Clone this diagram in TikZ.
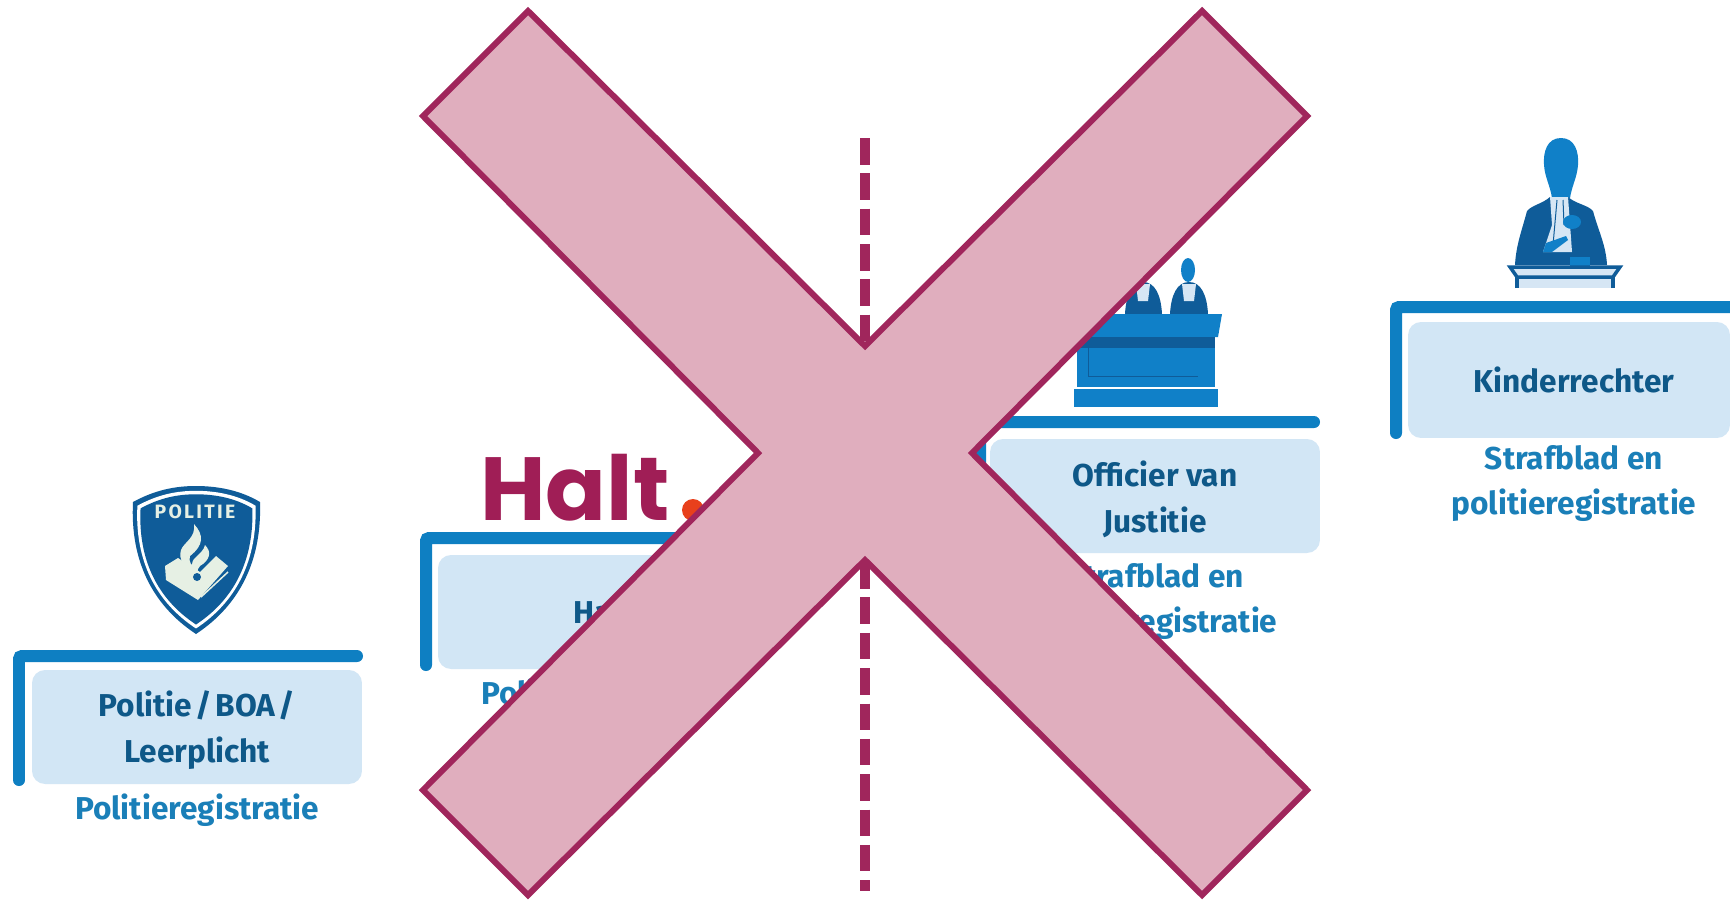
\documentclass[tikz,border=0pt]{standalone}
\usepackage{fontspec}
\setmainfont{Fira Sans}
\newfontfamily\logofont{Poppins}
\usetikzlibrary{positioning}
\definecolor{barblue}{RGB}{14,127,194}
\definecolor{boxblue}{RGB}{210,230,245}
\definecolor{titleblue}{RGB}{14,88,136}
\definecolor{subblue}{RGB}{26,127,184}
\definecolor{iconblue}{RGB}{16,128,200}
\definecolor{navyblue}{RGB}{15,92,153}
\definecolor{cream}{RGB}{230,240,228}
\definecolor{paleblue}{RGB}{214,230,244}
\definecolor{crossfill}{RGB}{224,174,190}
\definecolor{crossline}{RGB}{160,38,92}
\definecolor{haltred}{RGB}{160,30,86}
\definecolor{haltdot}{RGB}{232,64,28}
\newcommand{\shieldpath}{(-63,-53) .. controls (-41,-65) and (-21,-69) .. (0,-69) .. controls (21,-69) and (44,-65) .. (64,-53) .. controls (66,5) and (44,50) .. (0,79) .. controls (-44,50) and (-66,5) .. (-63,-53) -- cycle}
\newcommand{\topstrut}{\rule{0pt}{18.5pt}}
\tikzset{
  bracket/.style={draw=barblue,line width=0.24cm,rounded corners=0.06cm,line cap=round},
  panelbox/.style={fill=boxblue,rounded corners=0.26cm,minimum width=6.6cm,minimum height=2.28cm,inner sep=0pt,align=center,text=titleblue,font=\fontsize{18}{26}\selectfont\bfseries},
  sublabel/.style={align=center,text=subblue,inner sep=0pt,font=\fontsize{18}{26}\selectfont\bfseries},
  crossmark/.style={draw=crossline,fill=crossfill,line width=0.12cm,miter limit=4},
  divider/.style={draw=crossline,line width=0.19cm,dash pattern=on 0.53cm off 0.177cm}
}
\begin{document}
\begin{tikzpicture}[x=0.02cm,y=-0.02cm]
  \useasboundingbox (0,0) rectangle (1730,900);
  \fill[white] (0,0) rectangle (1730,900);
  % panels
  \draw[bracket] (19,780) |- (357,656);
  \node[panelbox] (politiebox) at (197,727) {\topstrut\spaceskip=2pt Politie / BOA /\\Leerplicht};
  \node[sublabel,below=0.19cm of politiebox] (politiesub) {Politieregistratie};
  \draw[bracket] (426,665) |- (762,538);
  \node[panelbox] (haltbox) at (603,612) {Halt};
  \node[sublabel,below=0.19cm of haltbox] (haltsub) {Politieregistratie};
  \draw[bracket] (980,547) |- (1314,422);
  \node[panelbox] (officierbox) at (1155,496) {\topstrut Officier van\\Justitie};
  \node[sublabel,below=0.19cm of officierbox] (officiersub) {Strafblad en\\politieregistratie};
  \draw[bracket] (1396,433) |- (1735,307);
  \node[panelbox,minimum width=6.44cm,minimum height=2.32cm] (rechterbox) at (1569,380) {\hspace*{0.2cm}Kinderrechter};
  \node[sublabel,below=0.13cm of rechterbox,xshift=0.1cm] (rechtersub) {Strafblad en\\politieregistratie};
  % shield
  \begin{scope}[shift={(196,555)}]
    \fill[navyblue] \shieldpath;
    \fill[white,scale=0.93] \shieldpath;
    \fill[navyblue,scale=0.88] \shieldpath;
  \end{scope}
  \node[inner sep=0pt,text=cream,font=\fontsize{11}{12}\selectfont\bfseries\addfontfeatures{LetterSpace=12}] (politieword) at (195,512) {POLITIE};
  \fill[cream] (165,566) -- (178,558) -- (200,572) -- (216,556) -- (228,566) -- (198,600) -- (166,580) -- cycle;
  \draw[cream,line width=0.03cm] (201,597) -- (228,572);
  \fill[cream] (194,524) .. controls (204,535) and (204,545) .. (190,556) .. controls (188,562) and (192,566) .. (196,568) .. controls (184,566) and (178,560) .. (181,550) .. controls (184,542) and (196,538) .. (194,524) -- cycle;
  \fill[cream] (205,545) .. controls (212,552) and (210,560) .. (200,566) .. controls (196,570) and (198,575) .. (198,575) .. controls (190,570) and (190,562) .. (196,557) .. controls (200,553) and (204,550) .. (205,545) -- cycle;
  \fill[navyblue] (197,577) circle (4);
  % halt logo
  \node[anchor=base west,inner sep=0pt,text=haltred,font=\fontsize{51}{53}\selectfont\logofont\bfseries] (haltlogo) at (480,520) {Halt};
  \fill[haltdot] (693,510) circle (11);
  % bench
  \fill[iconblue] (1142,270) ellipse (7 and 12);
  \fill[navyblue] (1125,314) .. controls (1126,295) and (1132,282) .. (1143,282) .. controls (1155,282) and (1161,295) .. (1162,314) -- cycle;
  \fill[paleblue] (1136,284) -- (1150,284) -- (1148,301) -- (1138,301) -- cycle;
  \fill[iconblue] (1188,270) ellipse (7 and 12);
  \fill[navyblue] (1170,314) .. controls (1171,295) and (1177,282) .. (1189,282) .. controls (1201,282) and (1207,295) .. (1208,314) -- cycle;
  \fill[paleblue] (1182,284) -- (1196,284) -- (1194,301) -- (1184,301) -- cycle;
  \fill[iconblue] (1070,314) -- (1222,314) -- (1218,337) -- (1074,337) -- cycle;
  \fill[navyblue] (1077,337) rectangle (1215,348);
  \fill[iconblue] (1077,348) rectangle (1215,387);
  \draw[navyblue,line width=0.02cm] (1088,348) |- (1198,376);
  \fill[iconblue] (1074,389) rectangle (1218,407);
  % judge
  \fill[iconblue] (1561,138) .. controls (1575,138) and (1579,152) .. (1578,165) .. controls (1577,178) and (1572,185) .. (1570,198) -- (1552,198) .. controls (1550,185) and (1545,178) .. (1544,165) .. controls (1543,152) and (1547,138) .. (1561,138) -- cycle;
  \fill[navyblue] (1550,197) .. controls (1542,204) and (1532,205) .. (1527,211) .. controls (1522,230) and (1516,245) .. (1515,265) -- (1607,265) .. controls (1606,245) and (1598,230) .. (1593,211) .. controls (1588,205) and (1576,204) .. (1568,197) -- cycle;
  \fill[paleblue] (1550,197) -- (1568,197) -- (1572,252) -- (1543,252) -- (1552,225) -- cycle;
  \draw[navyblue,line width=0.02cm] (1557,200) -- (1553,245) (1563,200) -- (1564,225);
  \fill[iconblue] (1572,222) ellipse (9 and 7);
  \fill[iconblue] (1543,252) -- (1546,243) -- (1566,236) -- (1568,240) -- (1552,252) -- cycle;
  \fill[iconblue] (1570,257) rectangle (1590,266);
  \fill[paleblue] (1519,277) rectangle (1611,288);
  \draw[navyblue,line width=0.07cm] (1517,288) -- (1517,277);
  \draw[navyblue,line width=0.07cm] (1613,288) -- (1613,277);
  \draw[navyblue,fill=paleblue,line width=0.07cm] (1510,267) -- (1620,267) -- (1613,277) -- (1517,277) -- cycle;
  % divider and cross
  \draw[divider] (865,138) -- (865,891);
  \draw[crossmark] (865,346) -- (1202,11) -- (1307,116) -- (972,453) -- (1307,790) -- (1202,895) -- (865,560) -- (528,895) -- (423,790) -- (758,453) -- (423,116) -- (528,11) -- cycle;
\end{tikzpicture}
\end{document}
